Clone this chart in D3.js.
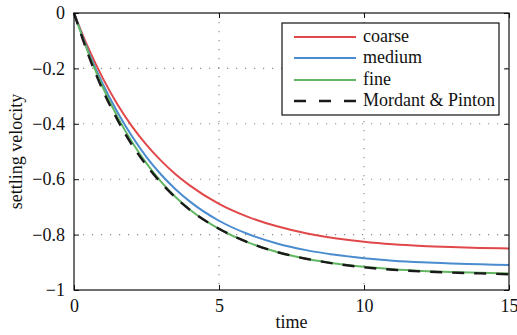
<!DOCTYPE html>
<html>
<head>
<meta charset="utf-8">
<script src="https://cdn.jsdelivr.net/npm/d3@7"></script>
<style>
  html, body { margin: 0; padding: 0; background: #fff; }
  svg text { font-family: "Liberation Serif", "Times New Roman", serif; fill: #111; }
</style>
</head>
<body>
<svg id="chart" width="517" height="335"></svg>
<script>
const time = [0, 0.5, 1, 1.5, 2, 2.5, 3, 3.5, 4, 5, 6, 7, 8, 9, 10, 11, 12, 13, 14, 15];
const coarse = [0, -0.128, -0.237, -0.330, -0.409, -0.476, -0.533, -0.582, -0.623, -0.689, -0.736, -0.770, -0.795, -0.813, -0.826, -0.835, -0.841, -0.845, -0.848, -0.850];
const medium = [0, -0.140, -0.258, -0.358, -0.445, -0.520, -0.583, -0.636, -0.681, -0.750, -0.798, -0.832, -0.856, -0.873, -0.885, -0.894, -0.900, -0.904, -0.907, -0.910];
const fine = [0, -0.146, -0.270, -0.375, -0.466, -0.543, -0.609, -0.664, -0.710, -0.779, -0.828, -0.863, -0.887, -0.904, -0.916, -0.925, -0.931, -0.935, -0.938, -0.940];
const mordant = [0, -0.153, -0.280, -0.386, -0.476, -0.550, -0.613, -0.666, -0.711, -0.779, -0.828, -0.863, -0.887, -0.905, -0.918, -0.927, -0.933, -0.937, -0.940, -0.943];
const seriesNames = ["coarse", "medium", "fine", "Mordant & Pinton"];
const seriesColors = ["#e0484a", "#4a8ccf", "#62b662", "#1a1a1a"];
const xTicks = [0, 5, 10, 15];
const yTicks = [0, -0.2, -0.4, -0.6, -0.8, -1];
const yTickLabels = ["0", "\u22120.2", "\u22120.4", "\u22120.6", "\u22120.8", "\u22121"];
const xLabel = "time";
const yLabel = "settling velocity";

const FS = 18;
const svg = d3.select("#chart");
const m = { left: 74, right: 509, top: 13, bottom: 290 };
const x = d3.scaleLinear().domain([0, 15]).range([m.left, m.right]);
const y = d3.scaleLinear().domain([-1, 0]).range([m.bottom, m.top]);

// grid
const grid = svg.append("g").attr("stroke", "#8a8a8a").attr("stroke-width", 1.1).attr("stroke-dasharray", "1.2,7.8");
grid.selectAll(".gx").data(xTicks.slice(1, -1)).join("line")
  .attr("x1", d => x(d)).attr("x2", d => x(d)).attr("y1", m.top).attr("y2", m.bottom);
grid.selectAll(".gy").data(yTicks.slice(1, -1)).join("line")
  .attr("y1", d => y(d)).attr("y2", d => y(d)).attr("x1", m.left).attr("x2", m.right);

// series
const allSeries = [coarse, medium, fine, mordant];
const line = d3.line().x((d, i) => x(time[i])).y(d => y(d)).curve(d3.curveMonotoneX);
allSeries.forEach((s, k) => {
  svg.append("path").datum(s).attr("d", line)
    .attr("fill", "none")
    .attr("stroke", seriesColors[k])
    .attr("stroke-width", k === 3 ? 2.4 : 2)
    .attr("stroke-dasharray", k === 3 ? "12,10" : null);
});

// axes with inward ticks
const tickLen = 5;
const axB = svg.append("g").attr("transform", `translate(0,${m.bottom})`)
  .call(d3.axisBottom(x).tickValues(xTicks).tickSize(-tickLen).tickPadding(10).tickFormat(d3.format("d")));
const axT = svg.append("g").attr("transform", `translate(0,${m.top})`)
  .call(d3.axisTop(x).tickValues(xTicks).tickSize(-tickLen).tickFormat(""));
const axL = svg.append("g").attr("transform", `translate(${m.left},0)`)
  .call(d3.axisLeft(y).tickValues(yTicks).tickSize(-tickLen).tickPadding(9).tickFormat((d, i) => yTickLabels[i]));
const axR = svg.append("g").attr("transform", `translate(${m.right},0)`)
  .call(d3.axisRight(y).tickValues(yTicks).tickSize(-tickLen).tickFormat(""));
[axB, axT, axL, axR].forEach(a => {
  a.attr("font-family", null).attr("font-size", null);
  a.select(".domain").remove();
  a.selectAll("line").attr("stroke", "#111").attr("stroke-width", 1);
  a.selectAll("text").attr("font-size", FS).attr("fill", "#111");
});
axB.selectAll("text").attr("dy", "0.68em");

svg.append("rect").attr("x", m.left).attr("y", m.top)
  .attr("width", m.right - m.left).attr("height", m.bottom - m.top)
  .attr("fill", "none").attr("stroke", "#111").attr("stroke-width", 1.2);

// labels
svg.append("text").attr("x", (m.left + m.right) / 2).attr("y", 328)
  .attr("text-anchor", "middle").attr("font-size", FS).text(xLabel);
svg.append("text").attr("transform", `translate(22,${(m.top + m.bottom) / 2}) rotate(-90)`)
  .attr("text-anchor", "middle").attr("font-size", FS).text(yLabel);

// legend
const lg = svg.append("g");
lg.append("rect").attr("x", 282).attr("y", 23).attr("width", 217).attr("height", 92)
  .attr("fill", "#fff").attr("stroke", "#111").attr("stroke-width", 1.2);
const legY = [37, 58, 80, 101];
seriesNames.forEach((n, k) => {
  lg.append("line").attr("x1", 294).attr("x2", 356).attr("y1", legY[k]).attr("y2", legY[k])
    .attr("stroke", seriesColors[k]).attr("stroke-width", k === 3 ? 2.4 : 2)
    .attr("stroke-dasharray", k === 3 ? "12,13" : null);
  lg.append("text").attr("x", 363).attr("y", legY[k]).attr("dy", "0.3em")
    .attr("font-size", FS).text(n);
});
</script>
</body>
</html>
